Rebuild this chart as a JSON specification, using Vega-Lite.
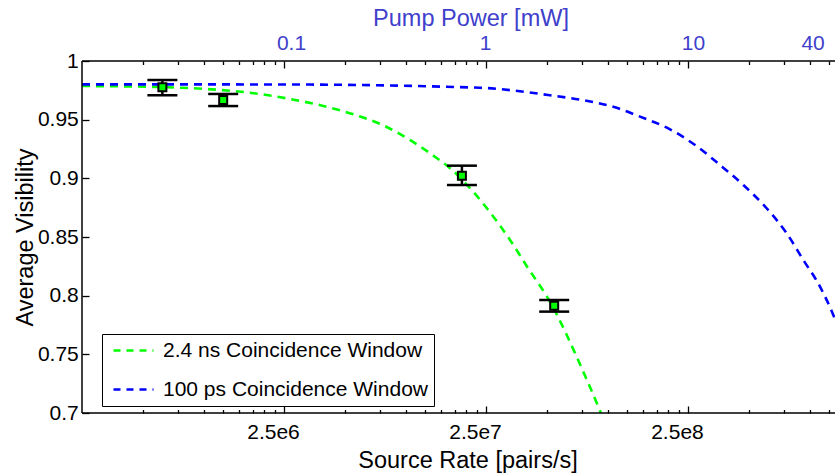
{
  "$schema": "https://vega.github.io/schema/vega-lite/v6.json",
  "width": 753,
  "height": 352,
  "autosize": {"type": "none"},
  "padding": {"left": 82, "top": 61, "right": 0, "bottom": 60},
  "background": "white",
  "config": {
    "view": {"stroke": null},
    "font": "Liberation Sans",
    "axis": {
      "grid": false,
      "labelColor": "black",
      "titleColor": "black",
      "labelFont": "Liberation Sans",
      "titleFont": "Liberation Sans",
      "labelFontSize": 21,
      "titleFontSize": 23.5,
      "titleFontWeight": "normal",
      "labelFlush": false,
      "labelOverlap": false
    },
    "legend": {"labelFont": "Liberation Sans"}
  },
  "datasets": {
    "curves": [
      {"series": "2.4 ns Coincidence Window", "rate": 250000, "vis": 0.9787},
      {"series": "2.4 ns Coincidence Window", "rate": 543000, "vis": 0.978},
      {"series": "2.4 ns Coincidence Window", "rate": 1036000, "vis": 0.9761},
      {"series": "2.4 ns Coincidence Window", "rate": 1900000, "vis": 0.9719},
      {"series": "2.4 ns Coincidence Window", "rate": 2680000, "vis": 0.9676},
      {"series": "2.4 ns Coincidence Window", "rate": 3910000, "vis": 0.9617},
      {"series": "2.4 ns Coincidence Window", "rate": 5510000, "vis": 0.9546},
      {"series": "2.4 ns Coincidence Window", "rate": 7750000, "vis": 0.9452},
      {"series": "2.4 ns Coincidence Window", "rate": 10500000, "vis": 0.9327},
      {"series": "2.4 ns Coincidence Window", "rate": 14300000, "vis": 0.9171},
      {"series": "2.4 ns Coincidence Window", "rate": 16600000, "vis": 0.9086},
      {"series": "2.4 ns Coincidence Window", "rate": 21600000, "vis": 0.8886},
      {"series": "2.4 ns Coincidence Window", "rate": 26800000, "vis": 0.8688},
      {"series": "2.4 ns Coincidence Window", "rate": 32900000, "vis": 0.8475},
      {"series": "2.4 ns Coincidence Window", "rate": 40400000, "vis": 0.8234},
      {"series": "2.4 ns Coincidence Window", "rate": 50100000, "vis": 0.7992},
      {"series": "2.4 ns Coincidence Window", "rate": 79000000, "vis": 0.7281},
      {"series": "2.4 ns Coincidence Window", "rate": 92700000, "vis": 0.7},
      {"series": "100 ps Coincidence Window", "rate": 250000, "vis": 0.9801},
      {"series": "100 ps Coincidence Window", "rate": 2390000, "vis": 0.98},
      {"series": "100 ps Coincidence Window", "rate": 23300000, "vis": 0.9772},
      {"series": "100 ps Coincidence Window", "rate": 34800000, "vis": 0.9747},
      {"series": "100 ps Coincidence Window", "rate": 50700000, "vis": 0.971},
      {"series": "100 ps Coincidence Window", "rate": 74700000, "vis": 0.9668},
      {"series": "100 ps Coincidence Window", "rate": 108800000, "vis": 0.9605},
      {"series": "100 ps Coincidence Window", "rate": 144700000, "vis": 0.9526},
      {"series": "100 ps Coincidence Window", "rate": 203700000, "vis": 0.9418},
      {"series": "100 ps Coincidence Window", "rate": 271000000, "vis": 0.9284},
      {"series": "100 ps Coincidence Window", "rate": 360000000, "vis": 0.9114},
      {"series": "100 ps Coincidence Window", "rate": 470000000, "vis": 0.8943},
      {"series": "100 ps Coincidence Window", "rate": 613000000, "vis": 0.8745},
      {"series": "100 ps Coincidence Window", "rate": 770000000, "vis": 0.8532},
      {"series": "100 ps Coincidence Window", "rate": 931000000, "vis": 0.8304},
      {"series": "100 ps Coincidence Window", "rate": 1126000000, "vis": 0.8077},
      {"series": "100 ps Coincidence Window", "rate": 1310000000, "vis": 0.7836},
      {"series": "100 ps Coincidence Window", "rate": 1336000000, "vis": 0.78}
    ],
    "points": [
      {"rate": 625000, "v": 0.9776, "lo": 0.9708, "hi": 0.9838},
      {"rate": 1250000, "v": 0.9668, "lo": 0.9616, "hi": 0.9719},
      {"rate": 19000000, "v": 0.9023, "lo": 0.8943, "hi": 0.9108},
      {"rate": 54400000, "v": 0.7915, "lo": 0.7864, "hi": 0.7963}
    ]
  },
  "resolve": {"axis": {"x": "independent", "y": "independent"}},
  "layer": [
    {
      "data": {"name": "curves"},
      "mark": {"type": "line", "strokeDash": [8, 6], "strokeWidth": 2.6, "clip": true, "interpolate": "monotone"},
      "encoding": {
        "x": {
          "field": "rate", "type": "quantitative",
          "scale": {"type": "log", "domain": [250000, 1336000000], "nice": false},
          "axis": {
            "orient": "bottom", "offset": -7, "domain": false,
            "values": [500000, 750000, 1000000, 1250000, 1500000, 1750000, 2000000, 2250000, 2500000, 5000000, 7500000, 10000000, 12500000, 15000000, 17500000, 20000000, 22500000, 25000000, 50000000, 75000000, 100000000, 125000000, 150000000, 175000000, 200000000, 225000000, 250000000, 500000000, 750000000, 1000000000, 1250000000],
            "labelExpr": "datum.value == 2500000 ? '2.5e6' : datum.value == 25000000 ? '2.5e7' : datum.value == 250000000 ? '2.5e8' : ''",
            "ticks": true, "tickSize": 7, "tickColor": "black", "tickWidth": 1.3,
            "tickDash": {"condition": {"test": "datum.value == 2500000 || datum.value == 25000000 || datum.value == 250000000", "value": [10, 0]}, "value": [0, 3.5, 3.5, 10]},
            "labelPadding": 25, "labelBaseline": "alphabetic", "labelOffset": -11,
            "title": "Source Rate [pairs/s]", "titleX": 385.5, "titleY": 61, "titleAlign": "center", "titleBaseline": "alphabetic"
          }
        },
        "y": {
          "field": "vis", "type": "quantitative",
          "scale": {"domain": [0.7, 1], "nice": false, "zero": false},
          "axis": {
            "orient": "left", "offset": -7, "domain": false,
            "values": [0.7, 0.75, 0.8, 0.85, 0.9, 0.95, 1], "format": "~g",
            "ticks": true, "tickSize": 7, "tickColor": "black", "tickWidth": 1.3, "labelPadding": 3.7,
            "title": "Average Visibility", "titleX": -56.5, "titleY": 176, "titleAngle": -90, "titleAlign": "center", "titleBaseline": "alphabetic"
          }
        },
        "color": {
          "field": "series", "type": "nominal",
          "scale": {"domain": ["2.4 ns Coincidence Window", "100 ps Coincidence Window"], "range": ["#00ff00", "#0000ff"]},
          "legend": {
            "title": null, "orient": "none", "legendX": 20, "legendY": 273,
            "symbolType": "M-1,0H7", "symbolSize": 100, "symbolStrokeWidth": 2.6, "symbolDash": [7, 6],
            "labelFontSize": 21, "labelColor": "black", "labelOffset": 34, "labelLimit": 500,
            "strokeColor": "black", "fillColor": "white", "padding": 6, "rowPadding": 17
          }
        }
      }
    },
    {
      "data": {"values": [{}]},
      "mark": {"type": "rule", "color": "black", "strokeWidth": 1.5},
      "encoding": {
        "y": {"datum": 0.7, "type": "quantitative", "scale": {"domain": [0.7, 1], "nice": false, "zero": false}, "axis": null}
      }
    },
    {
      "data": {"values": [{}]},
      "mark": {"type": "rule", "color": "black", "strokeWidth": 1.5},
      "encoding": {
        "y": {"datum": 1, "type": "quantitative", "scale": {"domain": [0.7, 1], "nice": false, "zero": false}, "axis": null}
      }
    },
    {
      "data": {"values": [{}]},
      "mark": {"type": "rule", "color": "black", "strokeWidth": 1.5},
      "encoding": {
        "x": {"datum": 250000, "type": "quantitative", "scale": {"type": "log", "domain": [250000, 1336000000], "nice": false}, "axis": null}
      }
    },
    {
      "data": {"name": "points"},
      "mark": {"type": "rule", "color": "black", "strokeWidth": 2.5},
      "encoding": {
        "x": {"field": "rate", "type": "quantitative", "scale": {"type": "log", "domain": [250000, 1336000000], "nice": false}, "axis": null},
        "y": {"field": "lo", "type": "quantitative", "scale": {"domain": [0.7, 1], "nice": false, "zero": false}, "axis": null},
        "y2": {"field": "hi"}
      }
    },
    {
      "data": {"name": "points"},
      "mark": {"type": "tick", "orient": "horizontal", "color": "black", "size": 30, "thickness": 2.5, "opacity": 1},
      "encoding": {
        "x": {"field": "rate", "type": "quantitative", "scale": {"type": "log", "domain": [250000, 1336000000], "nice": false}, "axis": null},
        "y": {"field": "lo", "type": "quantitative", "scale": {"domain": [0.7, 1], "nice": false, "zero": false}, "axis": null}
      }
    },
    {
      "data": {"name": "points"},
      "mark": {"type": "tick", "orient": "horizontal", "color": "black", "size": 30, "thickness": 2.5, "opacity": 1},
      "encoding": {
        "x": {"field": "rate", "type": "quantitative", "scale": {"type": "log", "domain": [250000, 1336000000], "nice": false}, "axis": null},
        "y": {"field": "hi", "type": "quantitative", "scale": {"domain": [0.7, 1], "nice": false, "zero": false}, "axis": null}
      }
    },
    {
      "data": {"name": "points"},
      "mark": {"type": "point", "shape": "square", "filled": true, "size": 64, "fill": "#00ff00", "stroke": "black", "strokeWidth": 2, "opacity": 1},
      "encoding": {
        "x": {"field": "rate", "type": "quantitative", "scale": {"type": "log", "domain": [250000, 1336000000], "nice": false}, "axis": null},
        "y": {"field": "v", "type": "quantitative", "scale": {"domain": [0.7, 1], "nice": false, "zero": false}, "axis": null}
      }
    },
    {
      "data": {"name": "points"},
      "mark": {"type": "point", "opacity": 0},
      "encoding": {
        "x": {"field": "rate", "type": "quantitative", "scale": {"type": "log", "domain": [250000, 1336000000], "nice": false},
          "axis": {
            "orient": "top", "offset": -7, "domain": false,
            "values": [500000, 750000, 1000000, 1250000, 1500000, 1750000, 2000000, 2250000, 2500000, 5000000, 7500000, 10000000, 12500000, 15000000, 17500000, 20000000, 22500000, 25000000, 50000000, 75000000, 100000000, 125000000, 150000000, 175000000, 200000000, 225000000, 250000000, 500000000, 750000000, 1000000000, 1250000000],
            "labelExpr": "datum.value == 2500000 ? '0.1' : datum.value == 25000000 ? '1' : datum.value == 250000000 ? '10' : datum.value == 1000000000 ? '40' : ''",
            "labelOffset": {"condition": [{"test": "datum.value == 2500000", "value": 7}, {"test": "datum.value == 25000000", "value": -1}, {"test": "datum.value == 250000000", "value": 5}], "value": 3},
            "ticks": true, "tickSize": 7, "tickColor": "black", "tickWidth": 1.3,
            "tickDash": {"condition": {"test": "datum.value == 2500000 || datum.value == 25000000 || datum.value == 250000000", "value": [10, 0]}, "value": [0, 3.5, 3.5, 10]},
            "labelPadding": 11.7, "labelBaseline": "alphabetic", "labelColor": "#4040cc",
            "title": "Pump Power [mW]", "titleColor": "#4040cc", "titleX": 388.5, "titleY": -43, "titleAlign": "center", "titleBaseline": "alphabetic"
          }}
      }
    }
  ]
}
